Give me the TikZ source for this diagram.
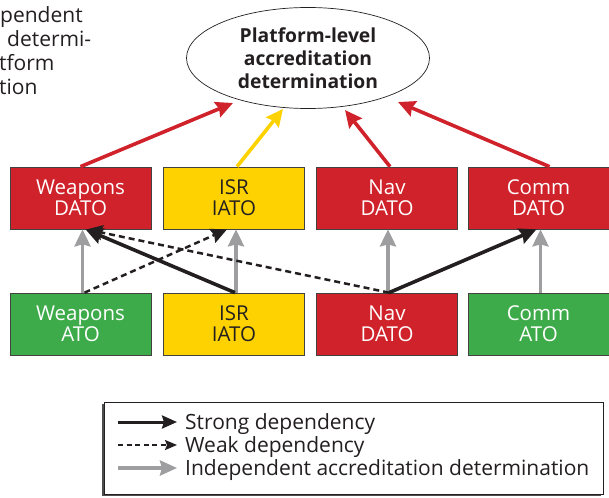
\documentclass[tikz,border=0pt]{standalone}
\usepackage{fontspec}
\setmainfont{Open Sans}
\usetikzlibrary{shapes.geometric,arrows.meta}
\definecolor{dred}{RGB}{208,34,42}
\definecolor{dyel}{RGB}{254,210,0}
\definecolor{dgrn}{RGB}{62,171,74}
\definecolor{dgry}{RGB}{158,158,161}
\definecolor{dblk}{RGB}{35,31,32}
\begin{document}
\begin{tikzpicture}[x=1pt,y=-1pt,
  box/.style={draw=dblk!85, line width=0.7pt, minimum width=141pt, minimum height=62pt,
    inner sep=0pt, align=center, font=\fontsize{20.5}{21}\selectfont},
  redbox/.style={box, fill=dred, text=white},
  yelbox/.style={box, fill=dyel, text=dblk},
  grnbox/.style={box, fill=dgrn, text=white},
  conn/.style={line width=3.6pt, -{Stealth[length=17pt,width=16pt,inset=2pt]}},
  redc/.style={conn, draw=dred},
  yelc/.style={conn, draw=dyel},
  grayc/.style={conn, draw=dgry},
  strongc/.style={conn, draw=dblk},
  weakc/.style={line width=2.5pt, draw=dblk, dash pattern=on 6pt off 4pt,
    -{Stealth[length=16pt,width=15pt,inset=2pt]}},
  txt/.style={font=\fontsize{21}{23}\selectfont, text=dblk, inner sep=0pt},
]
\useasboundingbox (0,0) rectangle (609,497);

% cropped text at top left
\node[txt, anchor=base west] (c1) at (0,23) {pendent};
\node[txt, anchor=base west] (c2) at (7,47) {determi-};
\node[txt, anchor=base west] (c3) at (-1,71) {tform};
\node[txt, anchor=base west] (c4) at (-1,95) {tion};

% platform ellipse
\node[ellipse, draw=dblk, line width=0.7pt, minimum width=243pt, minimum height=101pt,
  inner sep=0pt, align=center, font=\bfseries\fontsize{19.3}{23}\selectfont, text=dblk]
  (plat) at (308,58) {Platform-level\\accreditation\\determination};

% top row
\node[redbox] (wd) at (80.5,198) {Weapons\\DATO};
\node[yelbox] (id) at (234,198) {ISR\\IATO};
\node[redbox] (nd) at (387,198) {Nav\\DATO};
\node[redbox] (cd) at (538.5,198) {Comm\\DATO};

% bottom row
\node[grnbox] (wa) at (80.5,324) {Weapons\\ATO};
\node[yelbox] (ia) at (234,324) {ISR\\IATO};
\node[redbox] (na) at (387,324) {Nav\\DATO};
\node[grnbox] (ca) at (538.5,324) {Comm\\ATO};

% tips on the ellipse
\coordinate (t1) at (233,103);
\coordinate (t2) at (283,109);
\coordinate (t3) at (345,110);
\coordinate (t4) at (398,102);

\draw[redc] (wd.north) -- (t1);
\draw[yelc] ([xshift=3pt]id.north) -- (t2);
\draw[redc] ([xshift=3pt]nd.north) -- (t3);
\draw[redc] ([xshift=11pt]cd.north) -- (t4);

% independent
\draw[grayc] ([xshift=2pt]wa.north) -- ([xshift=2pt]wd.south);
\draw[grayc] ([xshift=2pt]ia.north) -- ([xshift=2pt]id.south);
\draw[grayc] ([xshift=1pt]na.north) -- ([xshift=1pt]nd.south);
\draw[grayc] ([xshift=2pt]ca.north) -- ([xshift=2pt]cd.south);

% weak
\draw[weakc] ([xshift=4pt]wa.north) -- ([xshift=-7pt]id.south);
\draw[weakc] ([xshift=2pt]na.north) -- ([xshift=6pt]wd.south);

% strong
\draw[strongc] ([xshift=1pt]ia.north) -- ([xshift=5pt]wd.south);
\draw[strongc] ([xshift=2pt]na.north) -- ([xshift=-2pt]cd.south);

% legend
\fill[dblk!80] (102,404) rectangle (601,496);
\node[draw=dblk, line width=0.7pt, fill=white, minimum width=499pt, minimum height=92pt,
  inner sep=0pt] (leg) at (353.5,448.5) {};
\coordinate (ls1) at (118,422); \coordinate (le1) at (177,422);
\coordinate (ls2) at (118,445); \coordinate (le2) at (177,445);
\coordinate (ls3) at (118,468); \coordinate (le3) at (177,468);
\draw[line width=3pt, draw=dblk, -{Stealth[length=15pt,width=13pt,inset=2pt]}] (ls1) -- (le1);
\draw[line width=2pt, draw=dblk, dash pattern=on 5pt off 3.5pt, -{Stealth[length=12pt,width=10pt,inset=2pt]}] (ls2) -- (le2);
\draw[line width=3.5pt, draw=dgry, -{Stealth[length=17pt,width=15pt,inset=2pt]}] (ls3) -- (le3);
\node[txt, anchor=base west] (l1) at (185,429) {Strong dependency};
\node[txt, anchor=base west] (l2) at (185,452) {Weak dependency};
\node[txt, anchor=base west] (l3) at (185,475) {Independent accreditation determination};
\end{tikzpicture}
\end{document}
